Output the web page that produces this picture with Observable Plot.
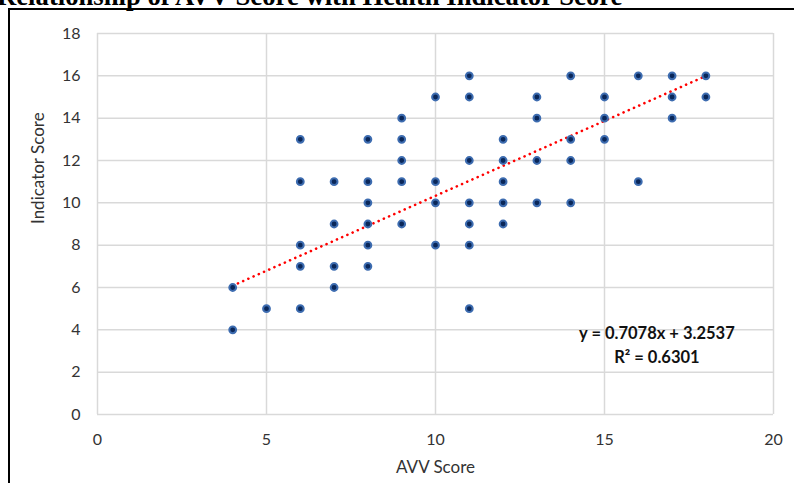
<!DOCTYPE html>
<html>
<head>
<meta charset="utf-8">
<script src="https://cdn.jsdelivr.net/npm/d3@7"></script>
<script src="https://cdn.jsdelivr.net/npm/@observablehq/plot@0.6"></script>
<style>
  html, body { margin: 0; padding: 0; background: #fff; }
  #wrap { position: relative; width: 794px; height: 483px; overflow: hidden; background: #fff; }
  #frame { position: absolute; left: 8px; top: 8px; width: 820px; height: 520px;
           border-top: 2.5px solid #000; border-left: 2.5px solid #000; box-sizing: border-box; }
  #title { position: absolute; left: -3px; top: -17.5px; white-space: nowrap; line-height: 26.7px;
           font-family: "Liberation Serif", "Times New Roman", serif; font-weight: bold; font-size: 26.7px; color: #000; }
  #chart { position: absolute; left: 0; top: 0; }
</style>
</head>
<body>
<div id="wrap">
  <div id="title"></div>
  <div id="frame"></div>
  <div id="chart"></div>
</div>
<script>
const titleText = "Relationship of AVV Score with Health Indicator Score";
const xLabel = "AVV Score";
const yLabel = "Indicator Score";
const xTicks = [0, 5, 10, 15, 20];
const yTicks = [0, 2, 4, 6, 8, 10, 12, 14, 16, 18];

// AVV score (x) and indicator score (y) for each visible point
const avv = [4, 4, 5, 6, 6, 6, 6, 6, 7, 7, 7, 7, 8, 8, 8, 8, 8, 8, 9, 9, 9, 9, 9,
  10, 10, 10, 10, 11, 11, 11, 11, 11, 11, 11, 12, 12, 12, 12, 12, 13, 13, 13, 13,
  14, 14, 14, 14, 15, 15, 15, 16, 16, 17, 17, 17, 18, 18];
const indicator = [6, 4, 5, 13, 11, 8, 7, 5, 11, 9, 7, 6, 13, 11, 10, 9, 8, 7, 14, 13, 12, 11, 9,
  15, 11, 10, 8, 16, 15, 12, 10, 9, 8, 5, 13, 12, 11, 10, 9, 15, 14, 12, 10,
  16, 13, 12, 10, 15, 14, 13, 16, 11, 16, 15, 14, 16, 15];

const slope = 0.7078;
const intercept = 3.2537;
const rSquared = 0.6301;

document.getElementById("title").textContent = titleText;

const points = avv.map((x, i) => ({x, y: indicator[i]}));
const xMin = d3.min(avv), xMax = d3.max(avv);
const trend = [xMin, xMax].map(x => ({x, y: slope * x + intercept}));
const eqText = `y = ${slope}x + ${intercept}`;
const r2Text = `R² = ${rSquared}`;

const font = "Lato, 'Open Sans', sans-serif";

const chart = Plot.plot({
  width: 794,
  height: 483,
  marginLeft: 97,
  marginRight: 21,
  marginTop: 33,
  marginBottom: 69,
  style: {fontFamily: font, background: "transparent", color: "#333"},
  x: {domain: [0, 20], ticks: xTicks, label: null},
  y: {domain: [0, 18], ticks: yTicks, label: null},
  marks: [
    Plot.gridX(xTicks, {stroke: "#d9d9d9", strokeOpacity: 1, strokeWidth: 1.5}),
    Plot.gridY(yTicks, {stroke: "#d9d9d9", strokeOpacity: 1, strokeWidth: 1.5}),
    Plot.axisX(xTicks, {tickSize: 0, tickPadding: 19, fontSize: 16, fill: "#333", label: null}),
    Plot.axisY(yTicks, {tickSize: 0, tickPadding: 17, fontSize: 16, fill: "#333", label: null}),
    Plot.line(trend, {x: "x", y: "y", stroke: "#ff0000", strokeWidth: 2.6,
      strokeDasharray: "0.1 5.6", strokeLinecap: "round"}),
    Plot.dot(points, {x: "x", y: "y", r: 3.4, fill: "#0a2759", stroke: "#3d6cb0", strokeWidth: 2}),
    Plot.text([eqText], {x: 16.55, y: 3.82, text: d => d, fontSize: 16.5, fontWeight: "bold", fill: "#111"}),
    Plot.text([r2Text], {x: 16.55, y: 2.7, text: d => d, fontSize: 16.5, fontWeight: "bold", fill: "#111"}),
    Plot.text([xLabel], {frameAnchor: "bottom", dy: 58, text: d => d, fontSize: 17, fill: "#333"}),
    Plot.text([yLabel], {frameAnchor: "left", dx: -59, rotate: -90, text: d => d, fontSize: 17, fill: "#333"})
  ]
});
document.getElementById("chart").appendChild(chart);
</script>
</body>
</html>
